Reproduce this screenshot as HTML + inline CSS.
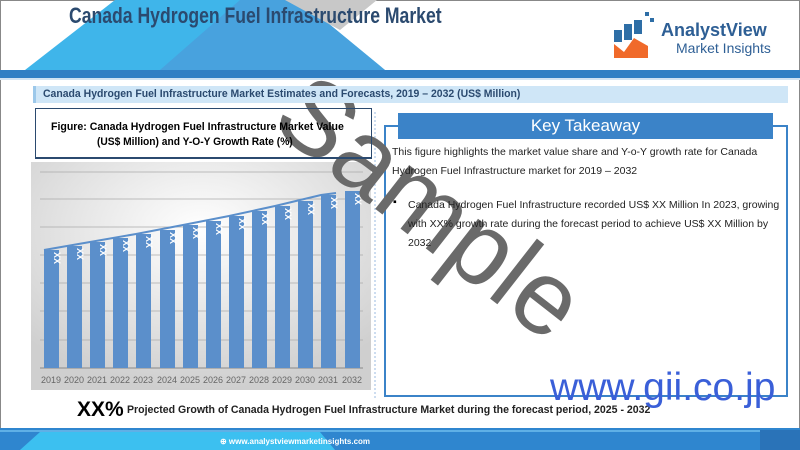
<!DOCTYPE html>
<html><head><meta charset="utf-8"><style>
body{margin:0;width:800px;height:450px;overflow:hidden;background:#fff;font-family:"Liberation Sans",sans-serif;position:relative}
.a{position:absolute}
.c{transform-origin:0 0;white-space:nowrap}
</style></head><body>
<div class="a" style="left:0;top:0;width:800px;height:450px;border:1px solid #888;box-sizing:border-box"></div>
<svg class="a" style="left:0;top:0" width="800" height="450">
<polygon points="25,70 115,0 300,0 385,70" fill="#3fb5ea"/>
<polygon points="160,70 240,0 300,0 385,70" fill="#4a9fdc" opacity="0.85"/>
<polygon points="285,0 377,0 340,30" fill="#c8c8c8"/>
<rect x="0" y="70" width="800" height="8" fill="#2f7fc4"/>
<rect x="0" y="78" width="800" height="2" fill="#cfe3f3"/>
<rect x="0" y="428" width="800" height="22" fill="#2f86cf"/>
<polygon points="20,450 40,432 320,432 335,450" fill="#3cc0f0"/>
<rect x="0" y="430" width="800" height="2" fill="#5fb0e6"/>
<rect x="760" y="430" width="40" height="20" fill="#2a73b8"/>
<rect x="614" y="30" width="8" height="12" fill="#2e6ea6"/>
<rect x="624" y="24" width="8" height="16" fill="#2e6ea6"/>
<rect x="634" y="20" width="8" height="14" fill="#2e6ea6"/>
<rect x="645" y="12" width="4" height="4" fill="#2e6ea6"/>
<rect x="650" y="18" width="4" height="4" fill="#2e6ea6"/>
<polygon points="614,58 614,44 624,52 634,38 648,46 648,58" fill="#f06a2a"/>
<defs><radialGradient id="g" cx="0.5" cy="0.3" r="0.7"><stop offset="0" stop-color="#fff"/><stop offset="1" stop-color="#cfcfcf"/></radialGradient></defs>
<rect x="31" y="162" width="340" height="228" fill="url(#g)"/>
<g stroke="#aaa" stroke-width="0.8">
<line x1="40" x2="363" y1="172" y2="172"/><line x1="40" x2="363" y1="199" y2="199"/><line x1="40" x2="363" y1="227" y2="227"/><line x1="40" x2="363" y1="255" y2="255"/><line x1="40" x2="363" y1="283" y2="283"/><line x1="40" x2="363" y1="311" y2="311"/><line x1="40" x2="363" y1="340" y2="340"/>
</g>
<line x1="40" x2="363" y1="368" y2="368" stroke="#888"/>
<g fill="#5b8fcb">
<rect x="44" y="250" width="15" height="118"/><rect x="67" y="246" width="15" height="122"/><rect x="90" y="242" width="15" height="126"/><rect x="113" y="238" width="15" height="130"/><rect x="136" y="234" width="15" height="134"/><rect x="160" y="230" width="15" height="138"/><rect x="183" y="225" width="15" height="143"/><rect x="206" y="221" width="15" height="147"/><rect x="229" y="216" width="15" height="152"/><rect x="252" y="211" width="15" height="157"/><rect x="275" y="206" width="15" height="162"/><rect x="298" y="201" width="15" height="167"/><rect x="321" y="195" width="15" height="173"/><rect x="345" y="191" width="15" height="177"/>
</g>
<polyline points="44,250 90,242 136,234 183,225 229,216 275,206 321,195 336,193" fill="none" stroke="#5b8fcb" stroke-width="2"/>
<g fill="#fff" font-size="9" font-weight="bold" text-anchor="middle">
<text transform="translate(54,258) rotate(90)">XX</text><text transform="translate(77,254) rotate(90)">XX</text><text transform="translate(100,250) rotate(90)">XX</text><text transform="translate(123,246) rotate(90)">XX</text><text transform="translate(146,242) rotate(90)">XX</text><text transform="translate(170,238) rotate(90)">XX</text><text transform="translate(193,233) rotate(90)">XX</text><text transform="translate(216,229) rotate(90)">XX</text><text transform="translate(239,224) rotate(90)">XX</text><text transform="translate(262,219) rotate(90)">XX</text><text transform="translate(285,214) rotate(90)">XX</text><text transform="translate(308,209) rotate(90)">XX</text><text transform="translate(331,203) rotate(90)">XX</text><text transform="translate(355,199) rotate(90)">XX</text>
</g>
<g fill="#666" font-size="9" text-anchor="middle">
<text x="51" y="383">2019</text><text x="74" y="383">2020</text><text x="97" y="383">2021</text><text x="120" y="383">2022</text><text x="143" y="383">2023</text><text x="167" y="383">2024</text><text x="190" y="383">2025</text><text x="213" y="383">2026</text><text x="236" y="383">2027</text><text x="259" y="383">2028</text><text x="282" y="383">2029</text><text x="305" y="383">2030</text><text x="328" y="383">2031</text><text x="352" y="383">2032</text>
</g>
<line x1="375" y1="112" x2="375" y2="400" stroke="#9bbbe0" stroke-dasharray="2,2"/>
<rect x="385" y="126" width="402" height="270" fill="none" stroke="#3b83c8" stroke-width="2"/>
<text x="432" y="243" transform="rotate(38 432 205)" font-size="105" fill="#6a6a6a" text-anchor="middle" font-family="Liberation Sans">Sample</text>
</svg>
<div class="a c" style="left:69px;top:3px;font-size:22px;font-weight:bold;color:#2b4a6f;transform:scaleX(0.8)">Canada Hydrogen Fuel Infrastructure Market</div>
<div class="a" style="left:661px;top:20px;font-size:18px;font-weight:bold;color:#2e5f95">AnalystView</div>
<div class="a" style="left:676px;top:40px;font-size:14px;color:#2e5f95">Market Insights</div>
<div class="a" style="left:33px;top:86px;width:755px;height:17px;background:#cfe6f7;border-left:3px solid #9cc8ea;box-sizing:border-box"></div>
<div class="a c" style="left:43px;top:88px;font-size:11px;font-weight:bold;color:#2b4a6f;transform:scaleX(0.95)">Canada Hydrogen Fuel Infrastructure Market Estimates and Forecasts, 2019 – 2032 (US$ Million)</div>
<div class="a" style="left:35px;top:108px;width:337px;height:51px;border:1px solid #2b4a6f;border-bottom-width:2px;box-sizing:border-box"></div>
<div class="a c" style="left:51px;top:121px;font-size:11px;font-weight:bold;transform:scaleX(0.96)">Figure: Canada Hydrogen Fuel Infrastructure Market Value</div>
<div class="a c" style="left:97px;top:136px;font-size:11px;font-weight:bold;transform:scaleX(0.93)">(US$ Million) and Y-O-Y Growth Rate (%)</div>
<div class="a" style="left:398px;top:113px;width:375px;height:26px;background:#3b83c8;color:#fff;font-size:17px;text-align:center;line-height:26px">Key Takeaway</div>
<div class="a" style="left:392px;top:143px;width:385px;font-size:10.5px;line-height:19px;color:#222">This figure highlights the market value share and Y-o-Y growth rate for Canada Hydrogen Fuel Infrastructure market for 2019 – 2032</div>
<div class="a" style="left:393px;top:196px;font-size:10.5px">▪</div>
<div class="a" style="left:408px;top:196px;width:372px;font-size:10.5px;line-height:19px;color:#222">Canada Hydrogen Fuel Infrastructure recorded US$ XX Million In 2023, growing with XX% growth rate during the forecast period to achieve US$ XX Million by 2032</div>
<div class="a" style="left:77px;top:398px;font-size:21px;font-weight:bold">XX%</div>
<div class="a c" style="left:127px;top:404px;font-size:11px;font-weight:bold;color:#222;transform:scaleX(0.96)">Projected Growth of Canada Hydrogen Fuel Infrastructure Market during the forecast period, 2025 - 2032</div>
<div class="a" style="left:550px;top:366px;font-size:39px;color:#3a5fd8">www.gii.co.jp</div>
<div class="a" style="left:220px;top:437px;font-size:8px;font-weight:bold;color:#fff">⊕ www.analystviewmarketinsights.com</div>
</body></html>
